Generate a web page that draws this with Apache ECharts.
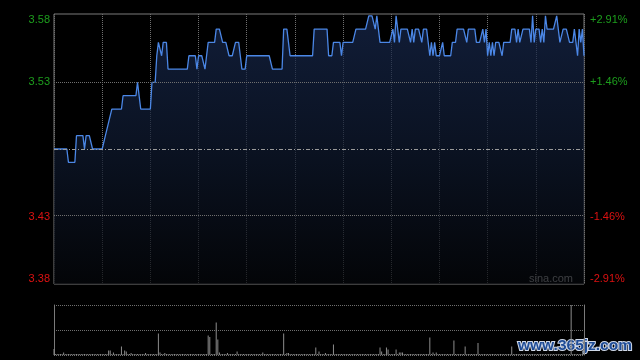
<!DOCTYPE html>
<html>
<head>
<meta charset="utf-8">
<script src="https://cdn.jsdelivr.net/npm/echarts@6/dist/echarts.min.js"></script>
<style>
html,body{margin:0;padding:0;background:#000;}
#chart{width:640px;height:360px;}
</style>
</head>
<body>
<div id="chart"></div>
<script>
// ---- data (HK session 09:30-12:00, 13:00-16:00 = 330 minutes) ----
const prevClose = 3.48;
const pctRange = 2.912;           // axis half-range in percent
const pctTicks = [-2.912, -1.456, 1.456, 2.912];
const minutes = Array.from({length: 331}, (_, i) => i);

const prices = [
  3.48,3.48,3.48,3.48,3.48,3.48,3.48,3.48,3.48,3.47,
  3.47,3.47,3.47,3.47,3.49,3.49,3.49,3.49,3.49,3.48,
  3.49,3.49,3.49,3.49,3.48,3.48,3.48,3.48,3.48,3.48,
  3.48,3.48,3.49,3.49,3.50,3.50,3.51,3.51,3.51,3.51,
  3.51,3.51,3.51,3.52,3.52,3.52,3.52,3.52,3.52,3.52,
  3.52,3.52,3.53,3.53,3.51,3.51,3.51,3.51,3.51,3.51,
  3.51,3.53,3.53,3.53,3.55,3.56,3.56,3.55,3.56,3.56,
  3.56,3.54,3.54,3.54,3.54,3.54,3.54,3.54,3.54,3.54,
  3.54,3.54,3.54,3.54,3.55,3.55,3.55,3.55,3.55,3.54,
  3.55,3.55,3.55,3.55,3.54,3.55,3.56,3.56,3.56,3.56,
  3.56,3.57,3.57,3.57,3.57,3.56,3.56,3.56,3.56,3.55,
  3.55,3.55,3.55,3.56,3.56,3.56,3.55,3.54,3.54,3.54,
  3.55,3.55,3.55,3.55,3.55,3.55,3.55,3.55,3.55,3.55,
  3.55,3.55,3.55,3.55,3.55,3.55,3.54,3.54,3.54,3.54,
  3.54,3.54,3.54,3.57,3.57,3.57,3.57,3.55,3.55,3.55,
  3.55,3.55,3.55,3.55,3.55,3.55,3.55,3.55,3.55,3.55,
  3.55,3.55,3.57,3.57,3.57,3.57,3.57,3.57,3.57,3.57,
  3.57,3.55,3.55,3.55,3.56,3.56,3.56,3.56,3.56,3.55,
  3.56,3.56,3.56,3.56,3.56,3.56,3.56,3.56,3.57,3.57,
  3.57,3.57,3.57,3.57,3.57,3.57,3.58,3.58,3.58,3.58,
  3.57,3.58,3.57,3.56,3.56,3.56,3.56,3.56,3.56,3.56,
  3.56,3.57,3.56,3.58,3.57,3.56,3.57,3.57,3.57,3.57,
  3.57,3.57,3.56,3.57,3.56,3.57,3.57,3.57,3.57,3.56,
  3.57,3.57,3.57,3.57,3.55,3.56,3.55,3.56,3.55,3.55,
  3.55,3.55,3.56,3.55,3.55,3.55,3.55,3.55,3.56,3.56,
  3.56,3.57,3.57,3.57,3.57,3.57,3.57,3.56,3.57,3.57,
  3.57,3.57,3.57,3.56,3.56,3.56,3.56,3.57,3.56,3.57,
  3.55,3.56,3.55,3.56,3.55,3.56,3.56,3.56,3.56,3.55,
  3.56,3.56,3.56,3.56,3.56,3.57,3.57,3.57,3.56,3.57,
  3.56,3.56,3.57,3.57,3.57,3.57,3.57,3.56,3.58,3.56,
  3.57,3.57,3.57,3.56,3.57,3.56,3.58,3.57,3.57,3.57,
  3.57,3.57,3.57,3.58,3.57,3.56,3.56,3.57,3.57,3.57,
  3.57,3.56,3.56,3.56,3.57,3.56,3.55,3.57,3.56,3.57,
  3.55
];

// volume (10k shares per minute)
const volumes = [
  12,2,2,2,2,2,5,2,2,2, 2,2,2,2,2,2,2,2,2,2, 2,2,2,2,2,2,2,2,2,2,
  2,2,2,2,9,9,2,5,2,2, 2,2,17,2,9,7,2,2,4,2, 2,2,2,2,2,2,2,4,2,2,
  2,2,2,2,2,43,5,2,2,4, 2,2,2,2,2,2,2,2,2,2, 2,2,2,2,2,2,2,2,2,2,
  2,2,2,2,2,2,39,36,2,2, 2,65,31,5,2,2,2,2,4,2, 2,2,2,2,7,2,2,2,2,2,
  2,2,2,2,2,2,2,2,2,2, 5,2,2,2,2,2,2,2,2,2, 2,2,2,43,2,4,4,2,2,2,
  2,2,2,2,2,2,2,2,2,2, 2,2,2,15,2,7,2,2,2,4, 2,2,2,2,21,2,2,2,2,2,
  2,2,2,2,2,2,2,2,2,2, 2,2,2,2,2,2,2,2,2,2, 2,2,2,15,7,2,2,15,11,2,
  2,2,2,11,2,5,5,5,2,2, 2,2,2,2,2,2,2,2,2,2, 2,2,2,2,35,2,5,2,5,2,
  2,2,2,2,2,2,2,2,2,29, 2,2,2,2,2,2,17,2,2,2, 2,2,2,2,24,2,2,2,2,2,
  2,2,2,2,2,2,2,2,2,2, 2,2,2,2,2,17,2,2,2,2, 2,2,2,2,2,2,2,2,2,2,
  2,2,2,2,2,2,2,2,2,2, 2,2,2,2,2,2,2,2,2,2, 2,2,100,2,2,2,2,2,2,2,
  30
];

// ---- chart ----
const priceAt = p => prevClose * (1 + p / 100);
const yMin = priceAt(-pctRange), yMax = priceAt(pctRange);
const priceTicks = pctTicks.map(priceAt);
const FONT = 'Liberation Sans, Arial, sans-serif';
const GREEN = '#1d9e1d', RED = '#dd1111';
const gridColor = '#6f6f6f';

const chart = echarts.init(document.getElementById('chart'), null, {renderer: 'canvas'});
chart.setOption({
  backgroundColor: '#000',
  animation: false,
  grid: [
    {left: 54, right: 56, top: 14, height: 270, show: true, borderColor: '#7a7a7a', borderWidth: 1, backgroundColor: 'transparent'},
    {left: 54, right: 56, top: 305, height: 50}
  ],
  xAxis: [
    {type: 'value', gridIndex: 0, min: 0, max: 330, interval: 30,
     axisLine: {show: false}, axisTick: {show: false}, axisLabel: {show: false},
     splitLine: {show: true, lineStyle: {color: gridColor, type: 'dotted', width: 1}}},
    {type: 'value', gridIndex: 1, min: 0, max: 330, interval: 30,
     axisLine: {show: false}, axisTick: {show: false}, axisLabel: {show: false},
     splitLine: {show: false}}
  ],
  yAxis: [
    {type: 'value', gridIndex: 0, min: yMin, max: yMax, position: 'left',
     axisLine: {show: false}, axisTick: {show: false}, splitLine: {show: false},
     axisLabel: {
       customValues: priceTicks, margin: 4, fontSize: 11, fontFamily: FONT,
       formatter: v => v.toFixed(2),
       color: v => (v > prevClose ? GREEN : RED),
       verticalAlignMinLabel: 'bottom', verticalAlignMaxLabel: 'top'
     }},
    {type: 'value', gridIndex: 0, min: -pctRange, max: pctRange, position: 'right',
     axisLine: {show: false}, axisTick: {show: false}, splitLine: {show: false},
     axisLabel: {
       customValues: pctTicks, margin: 6, fontSize: 11, fontFamily: FONT,
       formatter: v => (v > 0 ? '+' : '-') + Math.abs(v).toFixed(2) + '%',
       color: v => (v > 0 ? GREEN : RED),
       verticalAlignMinLabel: 'bottom', verticalAlignMaxLabel: 'top'
     }},
    {type: 'value', gridIndex: 1, min: 0, max: 100, interval: 50, position: 'left',
     axisLine: {show: true, lineStyle: {color: '#7a7a7a'}}, axisTick: {show: false}, axisLabel: {show: false},
     splitLine: {show: true, lineStyle: {color: gridColor, type: 'dotted'}}},
    {type: 'value', gridIndex: 1, min: 0, max: 100, position: 'right',
     axisLine: {show: true, lineStyle: {color: '#7a7a7a'}}, axisTick: {show: false}, axisLabel: {show: false},
     splitLine: {show: false}}
  ],
  series: [
    {
      type: 'line', xAxisIndex: 0, yAxisIndex: 0,
      data: minutes.map(i => [i, prices[i]]),
      showSymbol: false, smooth: false,
      lineStyle: {color: '#4b87e6', width: 1.3},
      areaStyle: {color: new echarts.graphic.LinearGradient(0, 0, 0, 1, [
        {offset: 0, color: '#18294f'},
        {offset: 0.5, color: '#0f1a30'},
        {offset: 1, color: '#05070b'}
      ])},
      markLine: {
        silent: true, symbol: 'none', label: {show: false},
        data: [
          {yAxis: priceTicks[1], lineStyle: {color: gridColor, type: 'dotted', width: 1}},
          {yAxis: priceTicks[2], lineStyle: {color: gridColor, type: 'dotted', width: 1}},
          {yAxis: prevClose, lineStyle: {color: '#9a9a9a', type: [4, 2, 1, 2], width: 1}}
        ]
      },
      z: 3
    },
    {
      type: 'bar', xAxisIndex: 1, yAxisIndex: 2,
      data: minutes.map(i => [i, volumes[i]]),
      barWidth: 1, itemStyle: {color: '#8c8c8c'}
    }
  ],
  graphic: [
    {type: 'text', right: 67, top: 273, silent: true,
     style: {text: 'sina.com', fill: '#bcbcbc', font: '11px ' + FONT}},
    {type: 'text', left: 517, top: 337, silent: true,
     style: {text: 'www.365jz.com', fill: '#1f4c96', stroke: '#cfd8e8', lineWidth: 2,
             font: 'bold 15.5px Liberation Sans, Arial, sans-serif'}}
  ]
});
</script>
</body>
</html>
